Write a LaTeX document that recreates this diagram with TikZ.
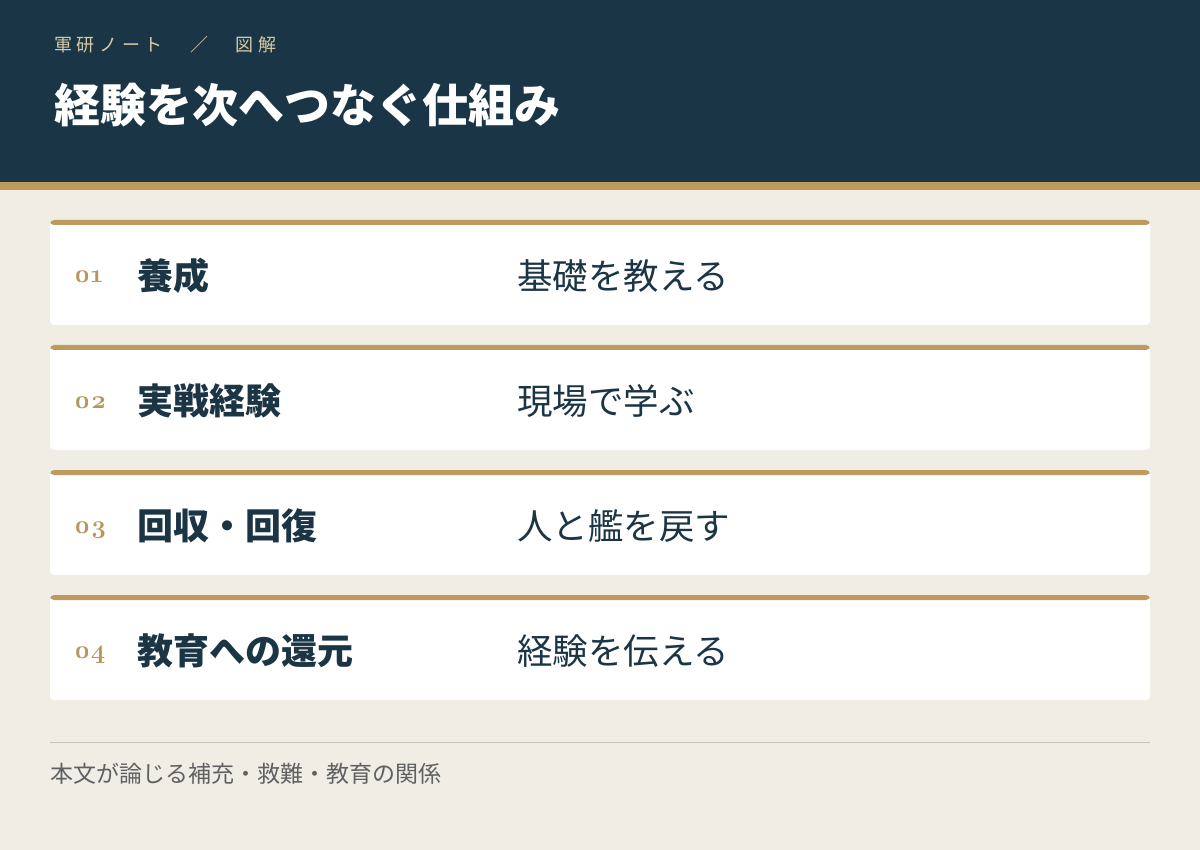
\documentclass[tikz,border=0pt]{standalone}
\usepackage{fontspec}
\newfontfamily\jp{Noto Sans CJK JP}
\newfontfamily\jpsub[LetterSpace=26]{Noto Sans CJK JP}
\newfontfamily\numfont[Numbers=OldStyle]{Latin Modern Roman}
\definecolor{navy}{HTML}{1A3646}
\definecolor{gold}{HTML}{BF9A5E}
\definecolor{numgold}{HTML}{B8955A}
\definecolor{bg}{HTML}{F0EDE5}
\definecolor{ink}{HTML}{1C3545}
\definecolor{sub}{HTML}{D6CAA6}
\definecolor{foot}{HTML}{5E6061}
\definecolor{rule}{HTML}{C9C6BF}
\tikzset{
  card/.style={rectangle, rounded corners=4pt, fill=white, minimum width=1100pt, minimum height=105pt, inner sep=0pt,
    path picture={\fill[gold] (path picture bounding box.north west) rectangle ([yshift=-5pt]path picture bounding box.north east);}},
  numlabel/.style={anchor=base west, inner sep=0pt, text=numgold, font=\fontsize{25.5}{28}\selectfont\numfont\bfseries},
  titlelabel/.style={anchor=west, inner sep=0pt, text=ink, font=\fontsize{36}{40}\selectfont\jp\bfseries},
  desclabel/.style={anchor=west, inner sep=0pt, text=ink, font=\fontsize{35.5}{40}\selectfont\jp},
}
\begin{document}
\begin{tikzpicture}[x=1pt,y=-1pt]
\useasboundingbox (0,0) rectangle (1200,850);
\fill[bg] (0,0) rectangle (1200,850);
\fill[navy] (0,0) rectangle (1200,182);
\fill[gold] (0,182) rectangle (1200,190);
\node[anchor=west, inner sep=0pt, text=sub, font=\fontsize{18}{20}\selectfont\jpsub] (kicker) at (54,45) {軍研ノート　／　図解};
\node[anchor=west, inner sep=0pt, text=white, font=\fontsize{46}{50}\selectfont\jp\bfseries] (title) at (54,105) {経験を次へつなぐ仕組み};

\node[card] (c1) at (600,272.5) {};
\node[card] (c2) at (600,397.5) {};
\node[card] (c3) at (600,522.5) {};
\node[card] (c4) at (600,647.5) {};

\node[numlabel] (n1) at (74,283) {01};
\node[titlelabel] (t1) at (137,276) {養成};
\node[desclabel] (d1) at (517,276) {基礎を教える};

\node[numlabel] (n2) at (74,408) {02};
\node[titlelabel] (t2) at (137,401) {実戦経験};
\node[desclabel] (d2) at (517,401) {現場で学ぶ};

\node[numlabel] (n3) at (74,533) {03};
\node[titlelabel] (t3) at (137,526) {回収・回復};
\node[desclabel] (d3) at (517,526) {人と艦を戻す};

\node[numlabel] (n4) at (74,658) {04};
\node[titlelabel] (t4) at (137,651) {教育への還元};
\node[desclabel] (d4) at (517,651) {経験を伝える};

\coordinate (r1) at (50,742.5);
\coordinate (r2) at (1150,742.5);
\draw[rule, line width=1pt] (r1) -- (r2);
\node[anchor=west, inner sep=0pt, text=foot, font=\fontsize{23}{25}\selectfont\jp] (footer) at (50,774) {本文が論じる補充・救難・教育の関係};
\end{tikzpicture}
\end{document}
